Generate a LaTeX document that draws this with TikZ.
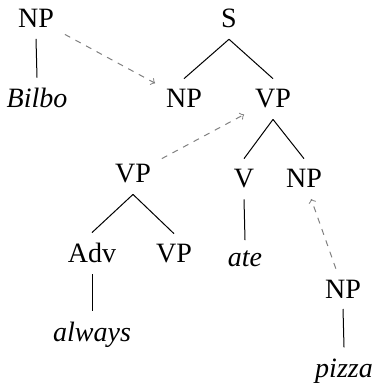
\documentclass[tikz,border=0pt]{standalone}
\usepackage{fontspec}
\setmainfont{Liberation Serif}
\begin{document}
\begin{tikzpicture}[x=0.5pt,y=-0.5pt,
  cat/.style={anchor=base,inner sep=5.3pt,font=\fontsize{14pt}{16pt}\selectfont},
  word/.style={cat,font=\fontsize{14pt}{16pt}\selectfont\itshape},
  branch/.style={line width=0.5pt,black},
  move/.style={line width=0.5pt,gray,dashed,->}]
\useasboundingbox (0,0) rectangle (377,383);
% sentence tree
\node[cat]  (s)      at (229,28)  {S};
\node[cat]  (npB)    at (184,108) {NP};
\node[cat]  (vpA)    at (273,108) {VP};
\node[cat]  (vpB)    at (133,183) {VP};
\node[cat]  (v)      at (244,188) {V};
\node[cat]  (npC)    at (304,188) {NP};
\node[cat]  (adv)    at (92,263)  {Adv};
\node[cat]  (vpC)    at (174,263) {VP};
\node[word] (ate)    at (245,267) {ate};
\node[word] (always) at (92,341)  {always};
% moved constituents
\node[cat]  (npA)    at (36,28)   {NP};
\node[word] (bilbo)  at (37,108)  {Bilbo};
\node[cat]  (npD)    at (343,298) {NP};
\node[word] (pizza)  at (344,377) {pizza};
% branches
\draw[branch] (s.south) -- (npB.north);
\draw[branch] (s.south) -- (vpA.north);
\draw[branch] (vpA.south) -- (v.north);
\draw[branch] (vpA.south) -- (npC.north);
\draw[branch] (vpB.south) -- (adv.north);
\draw[branch] (vpB.south) -- (vpC.north);
\draw[branch] (v.south) -- (ate.north);
\draw[branch] (adv.south) -- (always.north);
\draw[branch] (npA.south) -- (bilbo.north);
\draw[branch] (npD.south) -- (pizza.north);
% movement arrows
\draw[move] (npA) -- (npB);
\draw[move] (vpB) -- (vpA);
\draw[move] (npD) -- (npC);
\end{tikzpicture}
\end{document}
